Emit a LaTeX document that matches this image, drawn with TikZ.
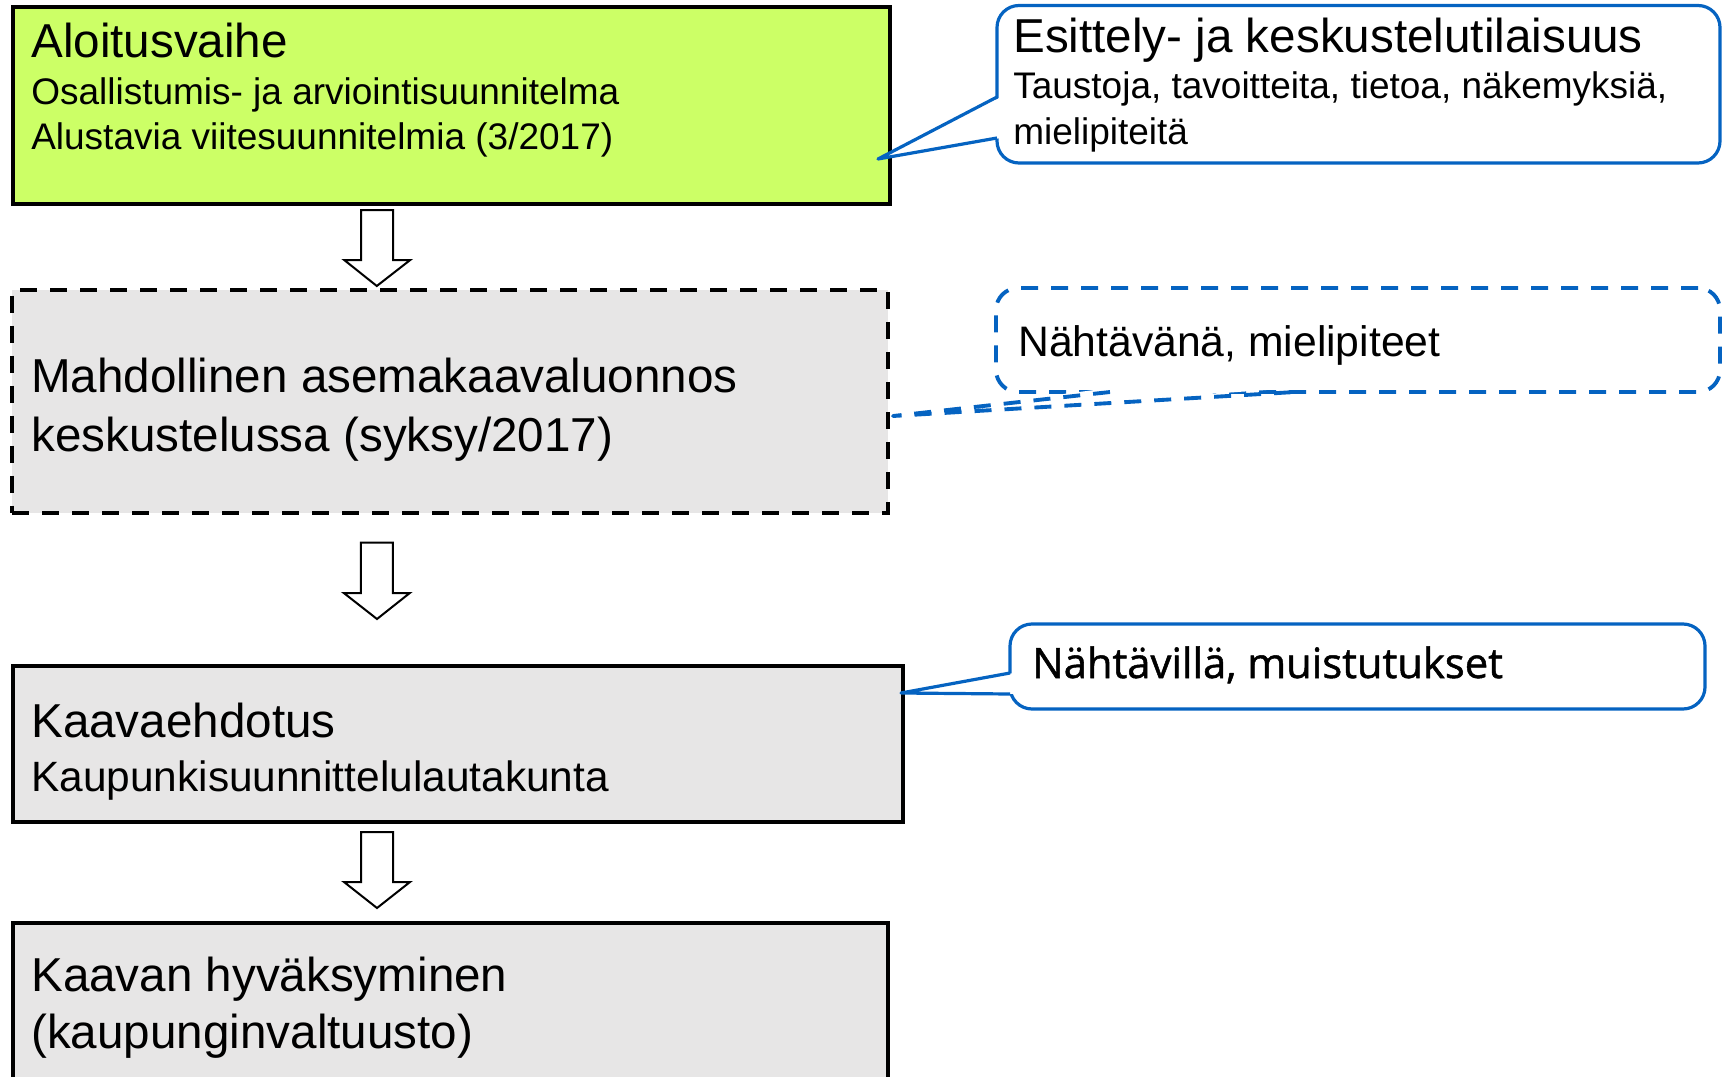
\documentclass[tikz,border=0pt]{standalone}
\usepackage{fontspec}
\setmainfont{Liberation Sans}
\newfontfamily\notefont[FakeBold=1.2]{Open Sans}
\usetikzlibrary{calc,fit}

\definecolor{stagegreen}{RGB}{204,255,102}
\definecolor{stagegray}{RGB}{231,230,230}
\definecolor{noteblue}{RGB}{5,99,193}

\newcommand{\bigtxt}{\fontsize{35.7}{42}\selectfont}
\newcommand{\subtxt}{\fontsize{27.75}{33}\selectfont}
\newcommand{\midtxt}{\fontsize{31.8}{38}\selectfont}

\tikzset{
  stagebox/.style={draw=black, line width=3pt, inner sep=0pt, outer sep=0pt},
  notebox/.style={draw=noteblue, line width=2.4pt, rounded corners=16.5pt, fill=white, inner sep=0pt, outer sep=0pt},
  noteline/.style={draw=noteblue, line width=2.4pt, line join=round},
  longdash/.style={dash pattern=on 12.75pt off 9.75pt},
  stagearrow/.style={draw=black, line width=1.5pt, fill=white, line join=miter},
  txt/.style={anchor=base west, inner sep=0pt}
}

% block arrow from one stage box down to the next
\newcommand{\stagearrow}[4]{%
  \draw[stagearrow] let \p1=($(#1.south west)+(348.5,#3)$), \p2=($(#2.north west)+(364.5,-#4)$) in
    (\x1,\y1) -- (\x1+24pt,\y1) -- (\x1+24pt,\y2-19.5pt) -- (\x1+36.75pt,\y2-19.5pt) -- (\x2,\y2)
    -- (\x1-12.75pt,\y2-19.5pt) -- (\x1,\y2-19.5pt) -- cycle;}

\begin{document}
\begin{tikzpicture}[x=0.75pt,y=0.75pt,yscale=-1,xscale=1]
    \useasboundingbox (0,0) rectangle (1727,1077);

    %Shape: Rectangle [stage 1]
    \node[stagebox, fill=stagegreen, fit={(12.7,7) (889.5,204)}] (s1) {};
    %Shape: Rectangle [stage 2]
    \node[stagebox, longdash, fill=stagegray, fit={(12.3,290) (888,513)}] (s2) {};
    %Shape: Rectangle [stage 3]
    \node[stagebox, fill=stagegray, fit={(12.5,665.7) (903,822)}] (s3) {};
    %Shape: Rectangle [stage 4]
    \node[stagebox, fill=stagegray, fit={(12.5,923) (888,1110)}] (s4) {};

    %Block Arrows
    \stagearrow{s1}{s2}{6}{4}
    \stagearrow{s2}{s3}{29.7}{46.7}
    \stagearrow{s3}{s4}{10}{15}

    %Shape: Callout [esittely]
    \node[notebox, fit={(997,5.5) (1720,163)}] (n1) {};
    \coordinate (n1tip) at (878,159);
    \coordinate (n1a) at (997,97);
    \coordinate (n1b) at (997,138);
    \fill[white] (n1tip) -- ($(n1a)+(4,0)$) -- ($(n1b)+(4,0)$) -- cycle;
    \draw[noteline] (n1a) -- (n1tip) -- (n1b);

    %Shape: Callout [nahtavana]
    \node[notebox, longdash, line width=2.9pt, fit={(996,288) (1720,392)}] (n2) {};
    \coordinate (n2tip) at (893,416);
    \coordinate (n2a) at (1110,392);
    \coordinate (n2b) at (1295,392);
    \fill[white] (n2tip) -- ($(n2a)+(0,-4)$) -- ($(n2b)+(0,-4)$) -- cycle;
    \draw[noteline, longdash, line width=2.9pt] (n2a) -- (n2tip) -- (n2b);

    %Shape: Callout [nahtavilla]
    \node[notebox, fit={(1010,624) (1705,709)}] (n3) {};
    \coordinate (n3tip) at (901,693);
    \coordinate (n3a) at (1010,673);
    \coordinate (n3b) at (1010,694);
    \fill[white] (n3tip) -- ($(n3a)+(4,0)$) -- ($(n3b)+(4,0)$) -- cycle;
    \draw[noteline] (n3a) -- (n3tip) -- (n3b);

    % Text Node
    \draw (31,58) node [txt] (s1title) {\bigtxt Aloitusvaihe};
    % Text Node
    \draw (31,105) node [txt] (s1line1) {\subtxt Osallistumis- ja arviointisuunnitelma};
    % Text Node
    \draw (31,150) node [txt] (s1line2) {\subtxt Alustavia viitesuunnitelmia (3/2017)};
    % Text Node
    \draw (31,392) node [txt] (s2line1) {\bigtxt Mahdollinen asemakaavaluonnos};
    % Text Node
    \draw (31,451) node [txt] (s2line2) {\bigtxt keskustelussa (syksy/2017)};
    % Text Node
    \draw (31,737) node [txt] (s3title) {\bigtxt Kaavaehdotus};
    % Text Node
    \draw (31,791) node [txt] (s3line1) {\midtxt Kaupunkisuunnittelulautakunta};
    % Text Node
    \draw (31,991) node [txt] (s4line1) {\bigtxt Kaavan hyväksyminen};
    % Text Node
    \draw (31,1048) node [txt] (s4line2) {\bigtxt (kaupunginvaltuusto)};
    % Text Node
    \draw (1013,53) node [txt] (n1title) {\bigtxt Esittely- ja keskustelutilaisuus};
    % Text Node
    \draw (1013,99) node [txt] (n1line1) {\subtxt Taustoja, tavoitteita, tietoa, näkemyksiä,};
    % Text Node
    \draw (1013,145) node [txt] (n1line2) {\subtxt mielipiteitä};
    % Text Node
    \draw (1018,356) node [txt] (n2line1) {\fontsize{32}{38}\selectfont Nähtävänä, mielipiteet};
    % Text Node
    \draw (1032,678) node [txt] (n3line1) {\notefont\fontsize{31.3}{36}\selectfont Nähtävillä, muistutukset};

\end{tikzpicture}
\end{document}
